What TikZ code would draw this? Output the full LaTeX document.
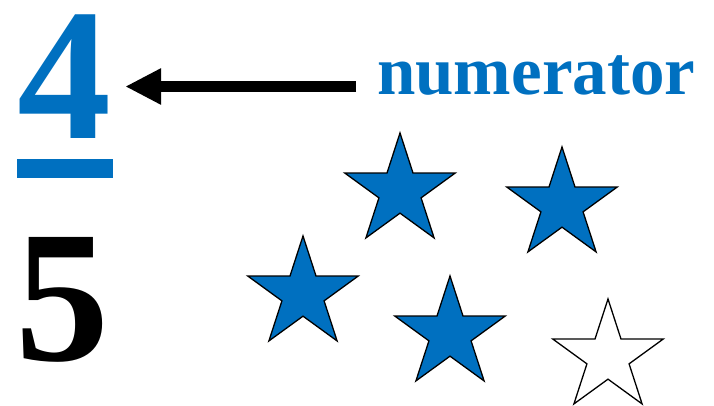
\documentclass[tikz,border=0pt]{standalone}
\usepackage{fontspec}
\setmainfont{Liberation Serif}
\usetikzlibrary{shapes.geometric,arrows.meta}
\definecolor{fracblue}{RGB}{0,112,192}
\begin{document}
\begin{tikzpicture}[x=1pt,y=-1pt]
            \tikzstyle{digit}=[inner sep=0pt, anchor=base, text height=128pt, text depth=0pt, font=\fontsize{188}{188}\selectfont\bfseries]
            \tikzstyle{word}=[inner sep=0pt, anchor=base west, text=fracblue, font=\fontsize{69}{69}\selectfont\bfseries]
            \tikzstyle{starnode}=[shape=star, star points=5, star point ratio=2.618, minimum size=116pt, inner sep=0pt, draw=black, line width=1.3pt]
            \tikzstyle{fullstar}=[starnode, fill=fracblue]
            \tikzstyle{emptystar}=[starnode, fill=white]
            \tikzstyle{pointer}=[line width=11pt, -{Triangle[length=36pt, width=34pt]}]
            \useasboundingbox (0,0) rectangle (714,406);
            \node[digit, text=fracblue] (four) at (64,139) {4};
            \fill[fracblue] (17,159) rectangle (113,178);
            \node[digit] (five) at (63,360) {5};
            \node[word] (numer) at (377,95) {numerator};
            \coordinate (tail) at (356,86.5);
            \draw[pointer, shorten >=14pt] (tail) -- (tail -| four.east);
            \node[fullstar] (s1) at (400,191) {};
            \node[fullstar] (s2) at (562,205) {};
            \node[fullstar] (s3) at (303,294) {};
            \node[fullstar] (s4) at (450,334) {};
            \node[emptystar] (s5) at (608,357) {};
        \end{tikzpicture}
\end{document}
